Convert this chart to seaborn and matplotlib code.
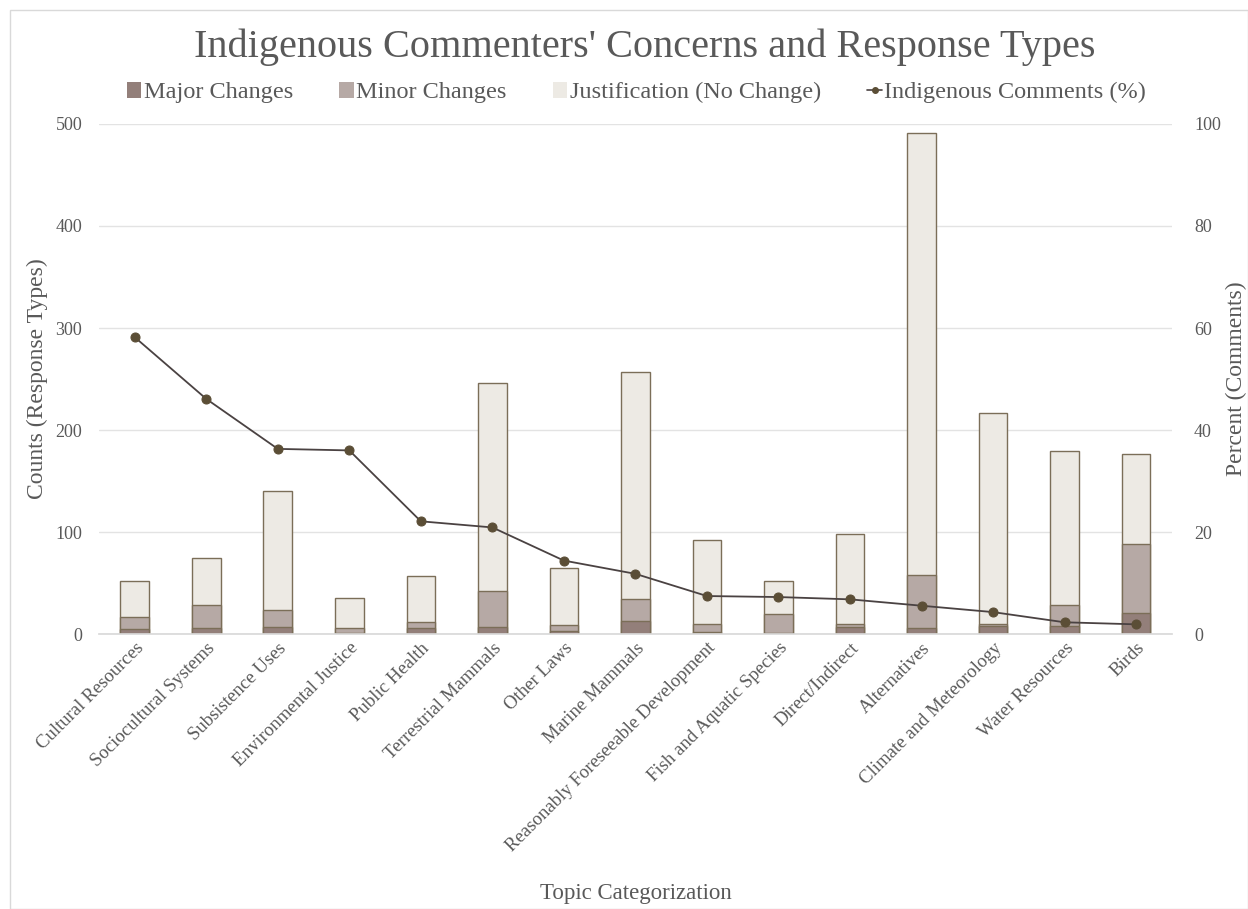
import numpy as np
import pandas as pd
import matplotlib
matplotlib.use("Agg")
import matplotlib.pyplot as plt
import seaborn as sns
from matplotlib.patches import Patch
from matplotlib.lines import Line2D

categories = ["Cultural Resources", "Sociocultural Systems", "Subsistence Uses",
              "Environmental Justice", "Public Health", "Terrestrial Mammals",
              "Other Laws", "Marine Mammals", "Reasonably Foreseeable Development",
              "Fish and Aquatic Species", "Direct/Indirect", "Alternatives",
              "Climate and Meteorology", "Water Resources", "Birds"]
major_changes = [5, 6, 7, 1, 6, 7, 3, 13, 2, 1, 7, 6, 8, 8, 21]
minor_changes = [12, 22, 17, 5, 6, 35, 6, 21, 8, 19, 3, 52, 2, 20, 67]
justification = [35, 47, 116, 29, 45, 204, 56, 223, 82, 32, 88, 433, 207, 151, 88]
indigenous_pct = [58.2, 46.1, 36.3, 36.0, 22.1, 20.9, 14.4, 11.8, 7.45, 7.25, 6.8, 5.55, 4.3, 2.3, 1.9]

sns.set_theme(style="white")
plt.rcParams['font.family'] = ['Liberation Serif', 'DejaVu Serif']

TXT = "#595959"
C_MAJOR = "#937f7a"
C_MINOR = "#b6a9a5"
C_JUST = "#edeae4"
C_EDGE = "#7b6e58"
C_LINE = "#4a4242"
C_MARK = "#5b4e36"

df = pd.DataFrame({"cat": categories, "major": major_changes,
                   "minor": minor_changes, "just": justification})
df["minor_top"] = df["major"] + df["minor"]
df["total"] = df["minor_top"] + df["just"]

fig = plt.figure(figsize=(12.48, 9.09), dpi=100)
ax = fig.add_axes([0.0793, 0.3025, 0.8597, 0.5611])

for col, color in [("total", C_JUST), ("minor_top", C_MINOR), ("major", C_MAJOR)]:
    sns.barplot(data=df, x="cat", y=col, color=color, width=0.4, ax=ax,
                edgecolor=C_EDGE, linewidth=1.0, saturation=1, zorder=2)

ax.set_ylim(0, 500)
ax.set_yticks(range(0, 501, 100))
ax.grid(axis="y", color="#e3e3e3", linewidth=1, zorder=0)
ax.set_axisbelow(True)
for s in ax.spines.values():
    s.set_visible(False)
ax.spines["bottom"].set_visible(True)
ax.spines["bottom"].set_color("#d9d9d9")
ax.tick_params(axis="both", length=0, colors=TXT, labelsize=13)
ax.tick_params(axis="y", pad=12)
ax.tick_params(axis="x", pad=4)
ax.set_xticks(range(len(categories)))
ax.set_xticklabels(categories, rotation=45, ha="right", rotation_mode="anchor",
                   fontsize=13.5, color=TXT)
ax.set_xlabel("Topic Categorization", fontsize=16.5, color=TXT)
ax.xaxis.set_label_coords(0.5, -0.508)
ax.xaxis.label.set_va("center")
ax.set_ylabel("Counts (Response Types)", fontsize=17, color=TXT)
ax.yaxis.set_label_coords(-0.0475, 0.5)
ax.set_xlim(-0.5, len(categories) - 0.5)

ax2 = ax.twinx()
sns.lineplot(x=np.arange(len(categories)), y=indigenous_pct, ax=ax2,
             color=C_LINE, linewidth=1.3, marker="o", markersize=6.5,
             markerfacecolor=C_MARK, markeredgecolor=C_MARK, zorder=5)
ax2.set_ylim(0, 100)
ax2.set_yticks(range(0, 101, 20))
for s in ax2.spines.values():
    s.set_visible(False)
ax2.tick_params(axis="y", length=0, colors=TXT, labelsize=13, pad=16)
ax2.set_ylabel("Percent (Comments)", fontsize=17, color=TXT)
ax2.yaxis.set_label_coords(1.0503, 0.5)
ax2.grid(False)

fig.text(0.517, 0.948, "Indigenous Commenters' Concerns and Response Types",
         ha="center", va="center", fontsize=29, color=TXT)

handles = [Patch(facecolor=C_MAJOR, edgecolor="none"),
           Patch(facecolor=C_MINOR, edgecolor="none"),
           Patch(facecolor=C_JUST, edgecolor="none"),
           Line2D([0], [0], color=C_LINE, marker="o", markersize=4,
                  markerfacecolor=C_MARK, markeredgecolor=C_MARK, linewidth=1.2)]
labels = ["Major Changes", "Minor Changes", "Justification (No Change)",
          "Indigenous Comments (%)"]
fig.legend(handles, labels, loc="center", bbox_to_anchor=(0.510, 0.898), ncol=4,
           frameon=False, fontsize=17.5, labelcolor=TXT, handlelength=0.6,
           handleheight=0.6, handletextpad=0.1, columnspacing=1.9)

fig.patches.append(plt.Rectangle((0.008, 0.0), 0.992, 0.989, transform=fig.transFigure,
                                 fill=False, edgecolor="#d9d9d9", linewidth=1))

fig.savefig("out.png", dpi=100)
